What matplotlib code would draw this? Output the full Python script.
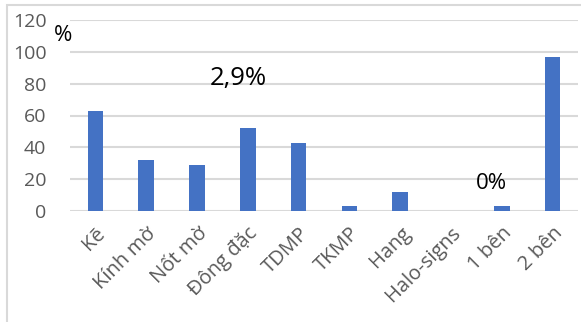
import matplotlib.pyplot as plt
from matplotlib.patches import Rectangle

categories = ['Kẽ', 'Kính mờ', 'Nốt mờ', 'Đông đặc', 'TDMP', 'TKMP',
              'Hang', 'Halo-signs', '1 bên', '2 bên']
values = [63, 32, 29, 52, 43, 2.9, 12, 0, 2.9, 97]
yticks = [0, 20, 40, 60, 80, 100, 120]

plt.rcParams['font.family'] = ['Open Sans', 'DejaVu Sans']

fig = plt.figure(figsize=(5.81, 3.22), dpi=100)
ax = fig.add_axes([70 / 581, 1 - 211 / 322, 508 / 581, 191 / 322])

x = range(len(categories))
ax.bar(x, values, width=0.31, color='#4472c4', zorder=3)

ax.set_xlim(-0.5, len(categories) - 0.5)
ax.set_ylim(0, 120)
ax.set_yticks(yticks)
ax.yaxis.grid(True, color='#d9d9d9', linewidth=1.5, zorder=0)
for s in ax.spines.values():
    s.set_visible(False)
ax.tick_params(axis='both', length=0, colors='#595959', labelsize=14)
ax.tick_params(axis='y', pad=17)
ax.tick_params(axis='x', pad=9, labelsize=14.5)
ax.set_xticks(list(x))
ax.set_xticklabels(categories, rotation=45, ha='right', rotation_mode='anchor')

ax.text(-0.64, 110, '%', fontsize=16, color='black', ha='center', va='center')
ax.text(2.81, 83, '2,9%', fontsize=18.5, color='black', ha='center', va='center')
ax.text(7.79, 17, '0%', fontsize=16, color='black', ha='center', va='center')

# light border around the chart area
fig.patches.append(Rectangle((7 / 581, -0.1), 1.2, 1 - 5 / 322 + 0.1,
                             transform=fig.transFigure, fill=False,
                             edgecolor='#d9d9d9', linewidth=1.5))

fig.savefig('out.png', dpi=100)
